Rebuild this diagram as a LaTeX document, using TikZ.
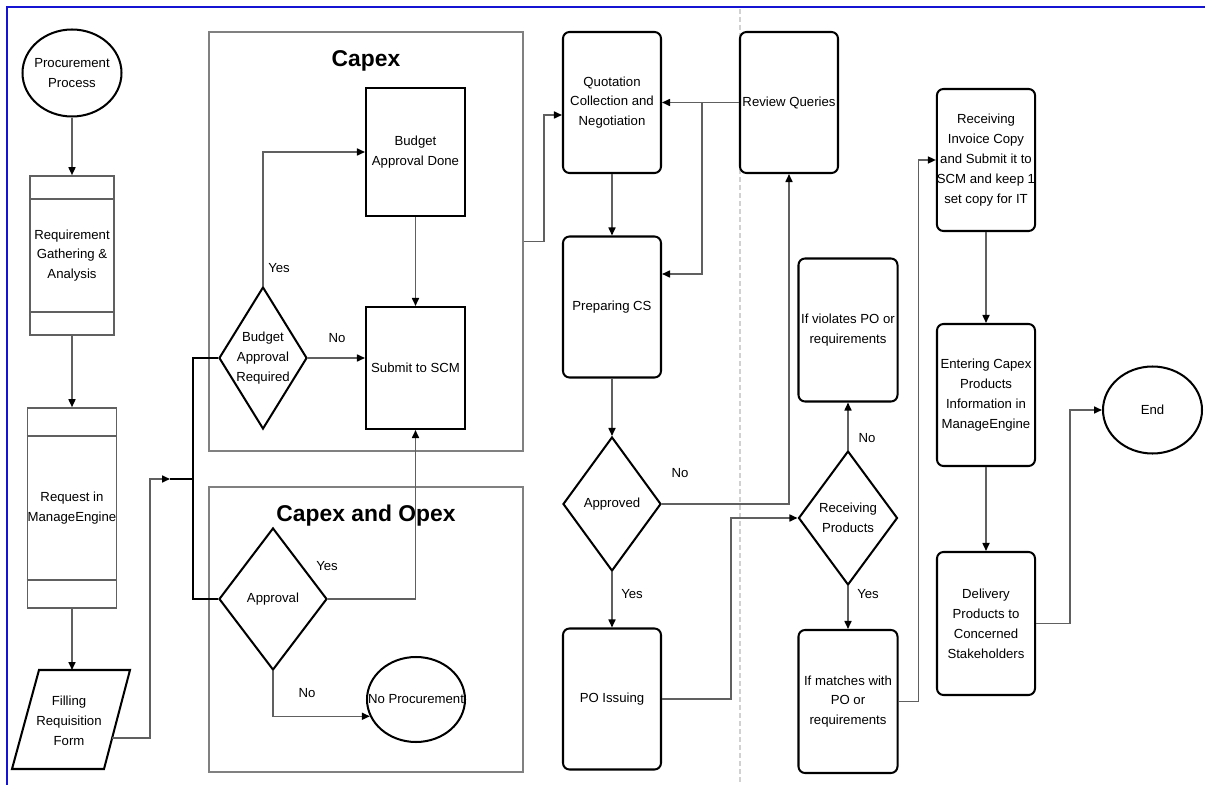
\documentclass[tikz,border=0pt]{standalone}
\usepackage{fontspec}
\setmainfont{Liberation Sans}
\usetikzlibrary{arrows.meta,shapes.geometric}
\definecolor{lnGrey}{HTML}{606060}
\definecolor{boxGrey}{HTML}{808080}
\definecolor{frBlue}{HTML}{1414D2}
\tikzset{
  txt/.style  = {align=center, font=\fontsize{7.5}{11.3}\selectfont, inner sep=0pt},
  pr/.style   = {txt, draw=black, line width=1.15pt, rounded corners=1.3mm,
                 minimum width=19.6mm, minimum height=28.2mm},
  sq/.style   = {txt, draw=black, line width=1.15pt, minimum width=19.8mm},
  sub/.style  = {txt, draw=lnGrey, line width=0.9pt},
  dec/.style  = {txt, diamond, draw=black, line width=1.15pt},
  term/.style = {ellipse, draw=black, line width=1.15pt, minimum width=19.8mm,
                 minimum height=17.4mm},
  grp/.style  = {draw=boxGrey, line width=0.9pt, minimum width=62.8mm},
  ttl/.style  = {font=\bfseries\fontsize{13}{15}\selectfont},
  ar/.style   = {-{Triangle[length=1.6mm,width=1.4mm,color=black]}, draw=lnGrey,
                 line width=0.9pt},
  jl/.style   = {draw=black, line width=1.15pt},
  lbl/.style  = {font=\fontsize{7.5}{9}\selectfont},
}

\begin{document}
\begin{tikzpicture}[x=0.2mm, y=-0.2mm]
  \useasboundingbox (0,0) rectangle (1205,785);
  % frame and lane divider
  \draw[frBlue, line width=1.1pt] (7,785) -- (7,7) -- (1205,7);
  \draw[black!18, line width=0.85pt, dash pattern=on 1mm off 0.6mm] (740,9) -- (740,785);

  % groups
  \node[grp, minimum height=83.8mm] (capex) at (366,241.5) {};
  \node[ttl] (capex-t) at (366,61) {Capex};
  \node[grp, minimum height=57mm] (capop) at (366,629.5) {};
  \node[ttl] (capop-t) at (366,516) {Capex and Opex};

  % left column
  \node[term] (start) at (72,73) {};
  \node[txt] (start-t) at (start) {Procurement\\Process};
  \node[sub, minimum width=16.8mm, minimum height=31.8mm] (req) at (72,255.5)
       {Requirement\\Gathering \&\\Analysis};
  \draw[lnGrey, line width=0.9pt] ([yshift=-4.8mm]req.north west) -- ([yshift=-4.8mm]req.north east);
  \draw[lnGrey, line width=0.9pt] ([yshift=4.8mm]req.south west) -- ([yshift=4.8mm]req.south east);
  \node[sub, minimum width=17.8mm, minimum height=40mm] (mreq) at (72,508)
       {Request in\\ManageEngine};
  \draw[lnGrey, line width=0.9pt] ([yshift=-5.8mm]mreq.north west) -- ([yshift=-5.8mm]mreq.north east);
  \draw[lnGrey, line width=0.9pt] ([yshift=5.8mm]mreq.south west) -- ([yshift=5.8mm]mreq.south east);
  \node[txt] (form) at (69,721) {Filling\\Requisition\\Form};
  \draw[black, line width=1.15pt] (39,670) -- (130,670) -- (104,769) -- (12,769) -- cycle;
  \coordinate (form-n) at (72,670);
  \coordinate (form-r) at (112,738);
  \coordinate (jt) at (170,479);
  \coordinate (jn) at (193,479);

  % capex
  \node[sq, minimum height=25.6mm] (bad) at (415.5,152) {Budget\\Approval Done};
  \node[sq, minimum height=24.4mm] (scm) at (415.5,368) {Submit to SCM};
  \node[dec, minimum width=17.6mm, minimum height=28.4mm, aspect=0.62] (bar) at (263,358)
       {Budget\\Approval\\Required};
  % capex and opex
  \node[dec, minimum width=21.6mm, minimum height=28.4mm, aspect=0.76] (appr) at (273,599) {Approval};
  \node[term, minimum width=19.6mm, minimum height=17mm] (noproc) at (416,699.5) {};
  \node[txt] (noproc-t) at (noproc) {No Procurement};

  % middle
  \node[pr] (quot) at (612,102.5) {Quotation\\Collection and\\Negotiation};
  \node[pr] (prep) at (612,307) {Preparing CS};
  \node[pr] (revq) at (789,102.5) {Review Queries};
  \node[dec, minimum width=19.6mm, minimum height=26.8mm, aspect=0.73] (apvd) at (612,504) {Approved};
  \node[pr] (po) at (612,699) {PO Issuing};

  % right
  \node[dec, minimum width=19.8mm, minimum height=26.8mm, aspect=0.74] (recv) at (848,518)
       {Receiving\\Products};
  \node[pr, minimum width=19.8mm, minimum height=28.6mm] (viol) at (848,330)
       {If violates PO or\\requirements};
  \node[pr, minimum width=19.8mm, minimum height=28.6mm] (match) at (848,701.5)
       {If matches with\\PO or\\requirements};
  \node[pr, minimum height=28.4mm] (inv) at (986,160)
       {Receiving\\Invoice Copy\\and Submit it to\\SCM and keep 1\\set copy for IT};
  \node[pr, minimum height=28.4mm] (ent) at (986,395)
       {Entering Capex\\Products\\Information in\\ManageEngine};
  \node[pr, minimum height=28.6mm] (dlv) at (986,623.5)
       {Delivery\\Products to\\Concerned\\Stakeholders};
  \node[term] (fin) at (1152.5,410) {};
  \node[txt] (fin-t) at (fin) {End};

  % connectors
  \draw[ar] (start.south) -- (req.north);
  \draw[ar] (req.south) -- (mreq.north);
  \draw[ar] (mreq.south) -- (form-n);
  \draw[ar] (form-r) -- ++(38,0) |- (jt);
  \draw[jl] (jt) -- (jn);
  \draw[jl] (bar.west) -| (jn) |- (appr.west);
  \draw[ar] (bar.north) |- (bad.west);
  \draw[ar] (bar.east) -- (scm.west |- bar.east);
  \draw[ar] (bad.south) -- (scm.north);
  \draw[ar] (appr.east) -| (scm.south);
  \draw[ar] (appr.south) |- (noproc.200);
  \draw[ar] (capex.east) -- ++(20,0) |- ([yshift=-2.5mm]quot.west);
  \draw[ar] (quot.south) -- (prep.north);
  \draw[ar] (revq.west) -- (quot.east);
  \path (revq.west) -- (quot.east) coordinate[pos=0.48] (rq-br);
  \draw[ar] (rq-br) |- ([yshift=6.6mm]prep.east);
  \draw[ar] (prep.south) -- (apvd.north);
  \draw[ar] (apvd.east) -| (revq.south);
  \draw[ar] (apvd.south) -- (po.north);
  \draw[ar] (po.east) -- ++(69,0) |- (recv.west);
  \draw[ar] (recv.north) -- (viol.south);
  \draw[ar] (recv.south) -- (match.north);
  \draw[ar] (match.east) -- ++(20,0) |- (inv.west);
  \draw[ar] (inv.south) -- (ent.north);
  \draw[ar] (ent.south) -- (dlv.north);
  \draw[ar] (dlv.east) -- ++(34,0) |- (fin.west);

  % branch labels
  \node[lbl] (l-bar-y) at (279,268) {Yes};
  \node[lbl] (l-bar-n) at (337,338) {No};
  \node[lbl] (l-appr-y) at (327,566) {Yes};
  \node[lbl] (l-appr-n) at (307,693) {No};
  \node[lbl] (l-apvd-n) at (680,473) {No};
  \node[lbl] (l-apvd-y) at (632,594) {Yes};
  \node[lbl] (l-recv-n) at (867,438) {No};
  \node[lbl] (l-recv-y) at (868,594) {Yes};
\end{tikzpicture}
\end{document}
